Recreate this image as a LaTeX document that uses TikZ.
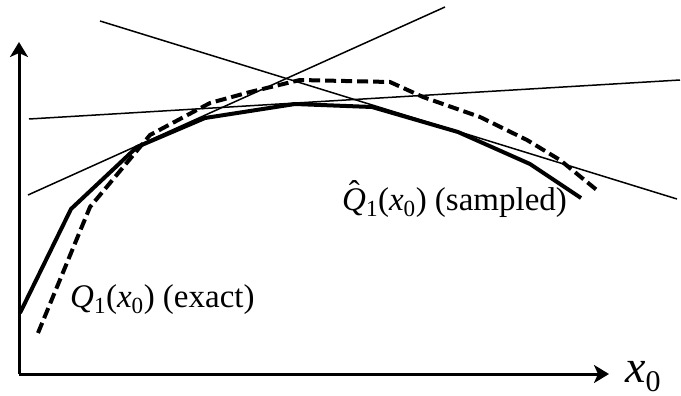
\documentclass[tikz,border=0pt]{standalone}
\usepackage{fontspec}
\setmainfont{Liberation Serif}
\usetikzlibrary{arrows.meta}

\newcommand{\hatQ}{\makebox[0pt][l]{\hspace{0.2em}\raisebox{0.2em}{\char"02C6}}\textit{Q}}

\begin{document}
\begin{tikzpicture}[x=1pt, y=-1pt,
    every node/.style={font=\fontsize{33}{38}\selectfont, inner sep=0pt},
    axis/.style={line width=3pt, -{Stealth[length=15pt, width=18pt, inset=4pt]}},
    exact/.style={line width=4pt},
    sampled/.style={line width=4pt, dash pattern=on 11pt off 5pt},
    tangent/.style={line width=1.5pt}]
  \useasboundingbox (0,0) rectangle (681,396);

  % Axes
  \coordinate (O) at (19,374);
  \coordinate (ytip) at (19,42);
  \coordinate (xtip) at (609,374);
  \draw[axis] (O) -- (ytip);
  \draw[axis] (O) -- (xtip);
  \node[anchor=base west, font=\fontsize{46}{50}\selectfont] (xlab) at (625,382)
    {\textit{x}\raisebox{-9pt}{\fontsize{30}{30}\selectfont 0}};

  % Tangent lines
  \draw[tangent] (100,21) -- (677,199);
  \draw[tangent] (28,195) -- (445,7);
  \draw[tangent] (29,119) -- (680,80);

  % Exact curve
  \draw[exact, line join=miter] (20,313) -- (71,209) -- (137,147) -- (205,118)
    -- (295,104) -- (372,107) -- (458,132) -- (530,164) -- (581,198);

  % Sampled curve
  \draw[sampled] (38,333) -- (90,207) -- (150,135) -- (210,103) -- (250,92)
    -- (300,80) -- (390,82) -- (423,97) -- (480,117) -- (527,140)
    -- (560,160) -- (598,191);

  % Labels
  \node[anchor=base west] (exactlab) at (70,307)
    {\textit{Q}\textsubscript{1}(\textit{x}\textsubscript{0}) (exact)};
  \node[anchor=base west] (samplab) at (342,210)
    {\hatQ\textsubscript{1}(\textit{x}\textsubscript{0}) (sampled)};
\end{tikzpicture}
\end{document}
